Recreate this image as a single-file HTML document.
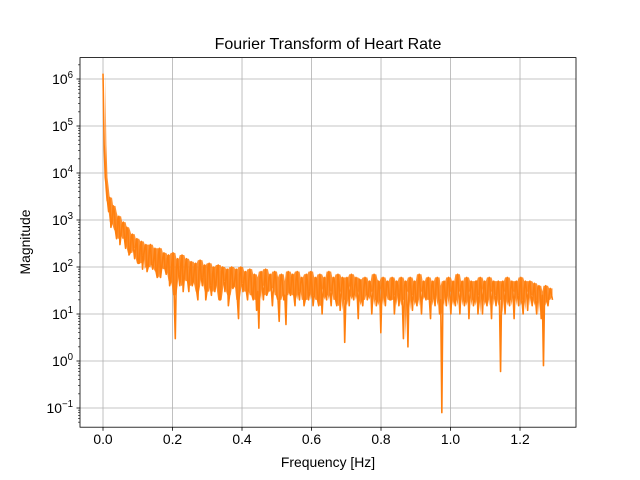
<!DOCTYPE html>
<html><head><meta charset="utf-8"><style>body{margin:0;background:#fff}svg{display:block;font-family:"Liberation Sans","DejaVu Sans",sans-serif}</style></head>
<body>
<svg id="c" width="640" height="480"></svg>
<script>
const stepHz = 0.0065;
const magnitudes = [1300000,8000,2500,3000,900,1500,400,1200,500,900,250,600,200,500,150,400,120,350,180,300,100,300,90,250,60,250,100,200,70,180,50,200,3,150,40,180,60,150,30,130,50,120,20,140,40,110,30,120,25,100,45,110,20,100,30,90,25,100,40,90,8,100,30,80,20,90,25,70,12,5,80,20,90,30,70,15,80,25,7,70,20,6,80,25,70,15,80,20,60,15,70,20,80,15,60,20,70,10,60,20,80,15,60,20,70,12,60,2.5,60,15,70,20,60,8,50,15,60,20,50,10,70,15,50,4,60,15,50,20,60,10,50,15,60,3,50,2,60,12,50,15,70,10,50,20,60,8,50,15,60,10,0.08,50,15,60,10,50,15,70,10,50,15,60,8,50,15,50,10,60,10,50,15,60,8,50,15,50,0.6,50,10,60,15,50,8,50,15,60,10,50,12,50,15,45,10,40,8,0.8,40,15,35,20];
const magnitudesMid = [40000,5000,1500,700,2000,600,1000,300,800,400,700,180,450,250,300,120,280,90,260,80,220,120,150,80,180,60,160,90,150,40,120,25,90,70,120,30,110,50,90,40,100,30,80,60,90,20,100,40,70,30,90,20,80,50,70,15,85,35,60,20,70,45,60,30,50,60,20,50,30,60,40,50,25,60,35,40,60,20,50,40,25,50,30,60,25,55,30,45,40,20,50,30,40,25,55,15,45,35,25,60,30,40,50,15,45,30,50,20,40,45,25,40,30,55,20,35,45,25,40,30,55,20,35,40,25,45,30,20,50,25,40,30,20,40,30,45,25,40,20,45,30,35,25,50,20,40,25,45,30,20,40,25,45,30,35,20,45,30,40,25,20,45,30,35,20,50,25,35,40,20,40,30,45,25,35,20,40,30,45,20,35,30,45,25,40,20,35,30,40,25,30,20,35,30,25,30,20,25];
const xTicks = [0,0.2,0.4,0.6,0.8,1.0,1.2];
const xTickLabels = ["0.0","0.2","0.4","0.6","0.8","1.0","1.2"];
const yExps = [-1,0,1,2,3,4,5,6];

const L=80,R=576,T=57.6,B=427.2;
const xmin=-0.0662,xmax=1.3611,lmin=-1.4085,lmax=6.4553;
const X=f=>L+(f-xmin)/(xmax-xmin)*(R-L);
const Y=v=>B-(Math.log10(v)-lmin)/(lmax-lmin)*(B-T);
const svg=document.getElementById('c');
const NS='http://www.w3.org/2000/svg';
function mk(t,a,p){const e=document.createElementNS(NS,t);for(const k in a)e.setAttribute(k,a[k]);(p||svg).appendChild(e);return e;}

const grid=mk('g',{});


xTicks.forEach(t=>mk('line',{x1:X(t),x2:X(t),y1:T,y2:B,stroke:'#b0b0b0','stroke-width':0.8},grid));
yExps.forEach(e=>mk('line',{x1:L,x2:R,y1:Y(Math.pow(10,e)),y2:Y(Math.pow(10,e)),stroke:'#b0b0b0','stroke-width':0.8},grid));

const pts=[];
magnitudes.forEach((m,i)=>{pts.push([i*stepHz,m]);if(i<magnitudesMid.length)pts.push([(i+0.5)*stepHz,magnitudesMid[i]]);});

const clip=mk('clipPath',{id:'cp'});mk('rect',{x:L,y:T,width:R-L,height:B-T},clip);

let up=[],lo=[];
for(let k=2;k<pts.length;k++){
  const w=[];for(let j=Math.max(0,k-2);j<=Math.min(pts.length-1,k+2);j++)w.push(pts[j][1]);
  w.sort((a,b)=>a-b);
  up.push([X(pts[k][0]),Y(w[w.length-1])]);
  lo.push([X(pts[k][0]),Y(w[1])]);
}
let bd='M'+up.map(p=>p[0].toFixed(2)+','+p[1].toFixed(2)).join('L')+'L'+lo.reverse().map(p=>p[0].toFixed(2)+','+p[1].toFixed(2)).join('L')+'Z';
const band=mk('path',{d:bd,fill:'#ff7f0e','fill-opacity':0.85,stroke:'none','clip-path':'url(#cp)'});



let d='';
pts.forEach((p,i)=>{d+=(i?'L':'M')+X(p[0]).toFixed(2)+','+Y(p[1]).toFixed(2);});
const line=mk('path',{d:d,fill:'none',stroke:'#ff7f0e','stroke-width':1.6,'stroke-linejoin':'round','clip-path':'url(#cp)'});



const frame=mk('rect',{x:L,y:T,width:R-L,height:B-T,fill:'none',stroke:'#000','stroke-width':0.8});



const xa=mk('g',{});


xTicks.forEach((t,i)=>{mk('line',{x1:X(t),x2:X(t),y1:B,y2:B+3.5,stroke:'#000','stroke-width':0.8},xa);
 const tx=mk('text',{x:X(t),y:B+17,'font-size':13.9,'text-anchor':'middle'},xa);tx.textContent=xTickLabels[i];});
const ya=mk('g',{});


yExps.forEach(e=>{const y=Y(Math.pow(10,e));mk('line',{x1:L-3.5,x2:L,y1:y,y2:y,stroke:'#000','stroke-width':0.8},ya);
 const tx=mk('text',{x:L-7,y:y+5,'font-size':13.9,'text-anchor':'end'},ya);
 const a=mk('tspan',{},tx);a.textContent='10';
 const b=mk('tspan',{'font-size':9.7,dy:-6},tx);b.textContent=(e<0?'\u2212':'')+Math.abs(e);
 for(let k=2;k<10;k++){const v=k*Math.pow(10,e);const yy=Y(v);if(yy>T&&yy<B)mk('line',{x1:L-2,x2:L,y1:yy,y2:yy,stroke:'#000','stroke-width':0.6},ya);}
});
for(let k=5;k<10;k++){const yy=Y(k*0.01);if(yy<B)mk('line',{x1:L-2,x2:L,y1:yy,y2:yy,stroke:'#000','stroke-width':0.6},ya);}

const t1=mk('text',{x:328,y:49,'font-size':16,'text-anchor':'middle'});t1.textContent='Fourier Transform of Heart Rate';


const t2=mk('text',{x:328,y:467,'font-size':13.9,'text-anchor':'middle'});t2.textContent='Frequency [Hz]';


const t3=mk('text',{x:30,y:242,'font-size':13.9,'text-anchor':'middle',transform:'rotate(-90 30 242)'});t3.textContent='Magnitude';


</script>
</body></html>
